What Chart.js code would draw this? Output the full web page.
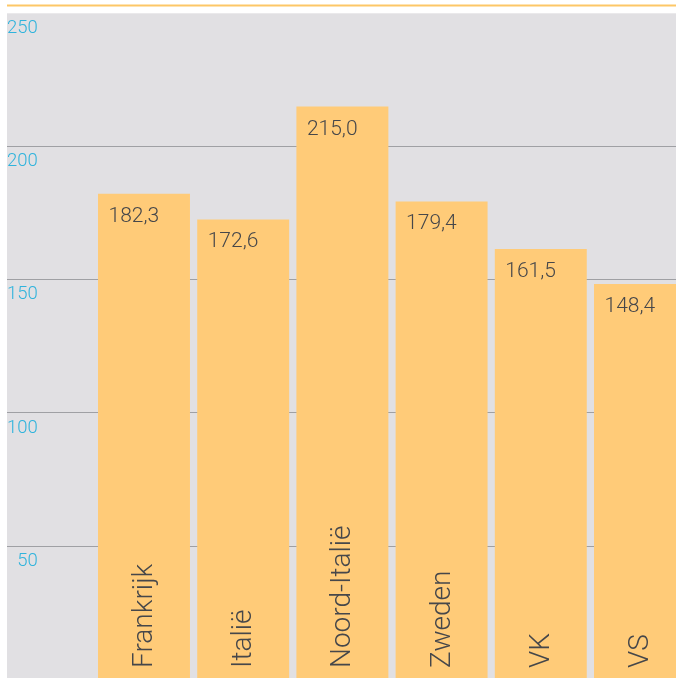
<!DOCTYPE html>
<html>
<head>
<meta charset="utf-8">
<script src="https://cdn.jsdelivr.net/npm/chart.js@4/dist/chart.umd.min.js"></script>
<style>
  html, body { margin: 0; padding: 0; background: #fff; overflow: hidden; }
  #grafiek { display: block; }
</style>
</head>
<body>
<canvas id="grafiek" width="676" height="681"></canvas>
<script>
// Gegevens
const landen = ['Frankrijk', 'Italië', 'Noord-Italië', 'Zweden', 'VK', 'VS'];
const waarden = [182.3, 172.6, 215.0, 179.4, 161.5, 148.4];
const yMin = 0;
const yMax = 250;
const yStap = 50;

// Kleuren
const ORANJE = '#FFCB78';
const LIJN_ORANJE = '#FDC767';
const GRIJS = '#E1E0E3';
const RASTER = '#9FA0A4';
const BLAUW = '#2FB3DC';
const TEKST = '#46474A';

const komma = v => v.toFixed(1).replace('.', ',');

// Achtergrond en oranje lijn bovenaan
const achtergrond = {
    id: 'achtergrond',
    beforeDraw(chart) {
        const { ctx, chartArea: ca } = chart;
        ctx.save();
        ctx.fillStyle = GRIJS;
        ctx.fillRect(ca.left, ca.top, ca.right - ca.left, ca.bottom - ca.top);
        ctx.strokeStyle = LIJN_ORANJE;
        ctx.lineWidth = 2;
        ctx.beginPath();
        ctx.moveTo(ca.left, 5.5);
        ctx.lineTo(ca.right, 5.5);
        ctx.stroke();
        ctx.restore();
    }
};

// Waarden en landnamen in de staven
const labels = {
    id: 'labels',
    afterDatasetsDraw(chart) {
        const { ctx } = chart;
        const meta = chart.getDatasetMeta(0);
        ctx.save();
        ctx.fillStyle = TEKST;
        meta.data.forEach((bar, i) => {
            const links = bar.x - bar.width / 2;
            ctx.font = '300 21px Roboto';
            ctx.textAlign = 'left';
            ctx.textBaseline = 'alphabetic';
            ctx.fillText(komma(waarden[i]), links + 10.5, bar.y + 28);

            ctx.save();
            ctx.translate(bar.x + 8, 668);
            ctx.rotate(-Math.PI / 2);
            ctx.font = '300 28px Roboto';
            ctx.fillText(landen[i], 0, 0);
            ctx.restore();
        });
        ctx.restore();
    }
};

new Chart(document.getElementById('grafiek'), {
    type: 'bar',
    data: {
        datasets: [{
            data: waarden.map((v, i) => ({ x: i + 1, y: v })),
            backgroundColor: ORANJE,
            borderWidth: 0,
            categoryPercentage: 1,
            barPercentage: 0.927
        }]
    },
    options: {
        responsive: false,
        animation: false,
        events: [],
        layout: { padding: { left: 7, top: 13.3, right: 0, bottom: 1.7 } },
        plugins: { legend: { display: false }, tooltip: { enabled: false } },
        scales: {
            x: {
                type: 'linear',
                display: false,
                offset: false,
                min: -0.381,
                max: 6.363
            },
            y: {
                min: yMin,
                max: yMax,
                afterFit(s) {
                    s.width = 0;
                    s.paddingTop = 0;
                    s.paddingBottom = 0;
                },
                border: { display: false },
                grid: {
                    drawTicks: false,
                    lineWidth: 1,
                    color: c => (c.tick.value === yMin || c.tick.value === yMax) ? 'rgba(0,0,0,0)' : RASTER
                },
                ticks: {
                    stepSize: yStap,
                    mirror: true,
                    crossAlign: 'far',
                    padding: 0,
                    labelOffset: 15,
                    color: BLAUW,
                    font: { family: 'Roboto', size: 18.5, weight: 300 },
                    callback: v => v === yMin ? '' : v
                }
            }
        }
    },
    plugins: [achtergrond, labels]
});
</script>
</body>
</html>
